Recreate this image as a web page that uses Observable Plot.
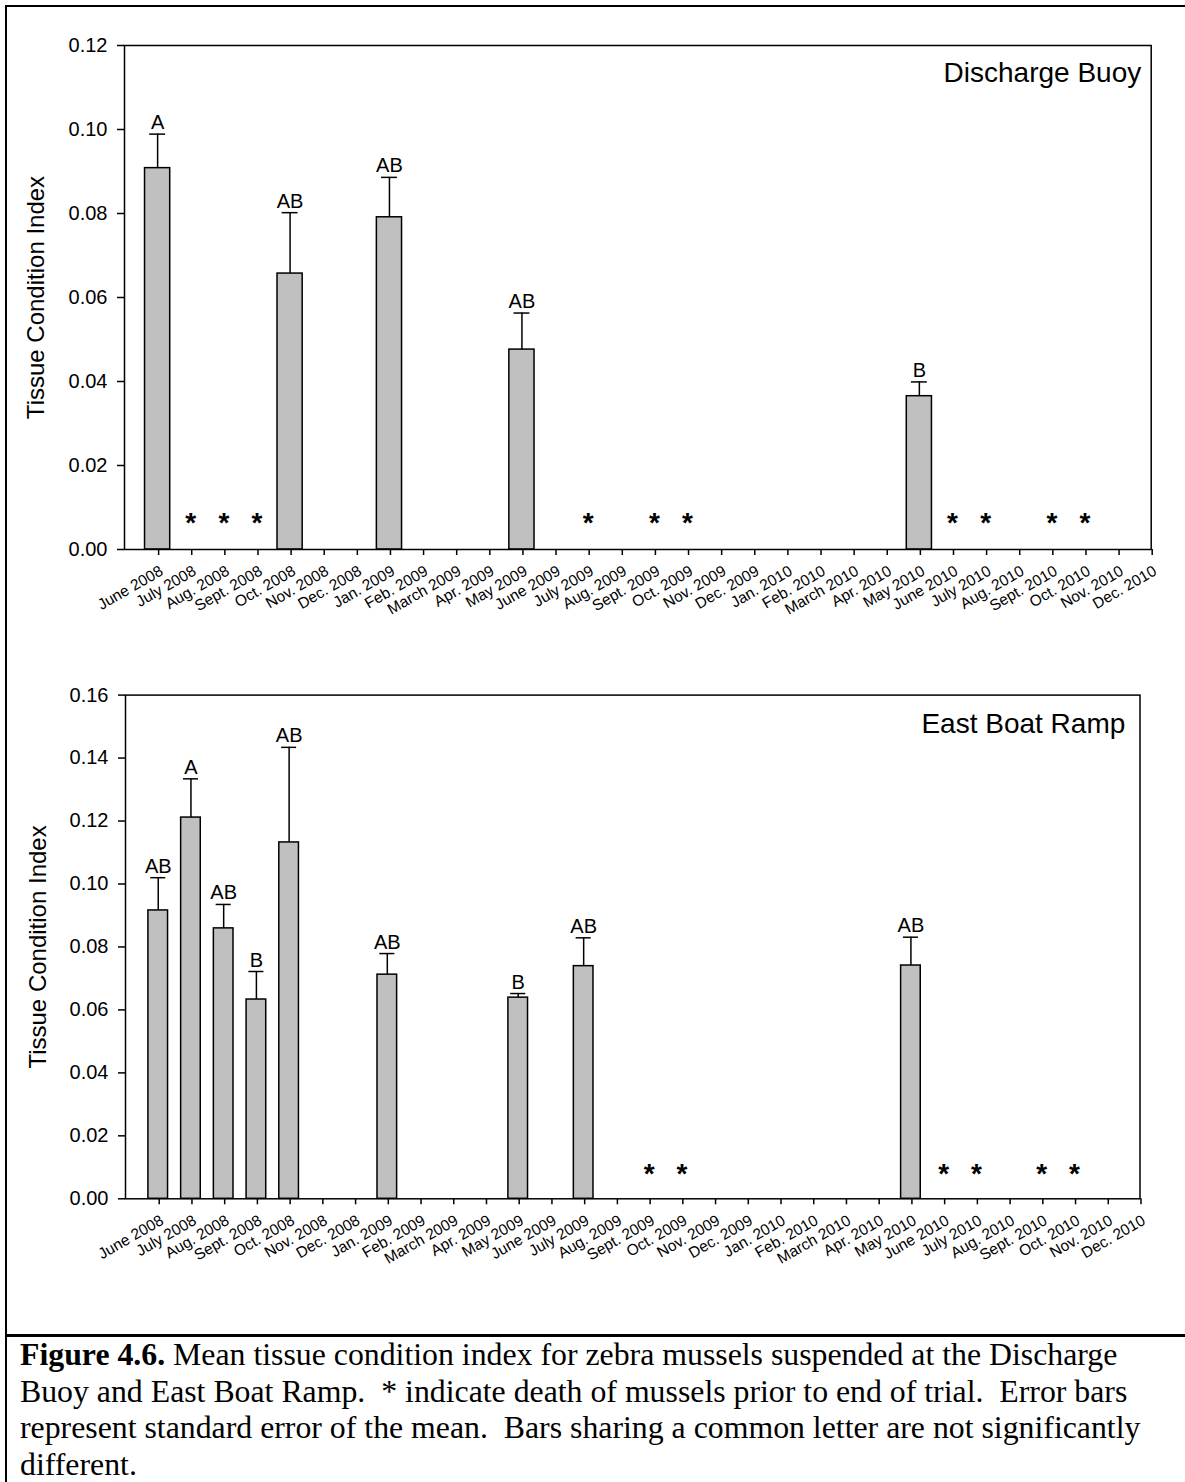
<!DOCTYPE html>
<html>
<head>
<meta charset="utf-8">
<script src="https://cdn.jsdelivr.net/npm/d3@7"></script>
<script src="https://cdn.jsdelivr.net/npm/@observablehq/plot@0.6"></script>
<style>
  body { margin: 0; background: #fff; }
  #page { position: relative; width: 1185px; height: 1482px; overflow: hidden; background: #fff; }
  #box { position: absolute; left: 5px; top: 5px; width: 1300px; height: 1600px; border-left: 2px solid #000; border-top: 2px solid #000; }
  #sep { position: absolute; left: 5px; top: 1334px; width: 1300px; height: 0; border-top: 3px solid #000; }
  .chart { position: absolute; left: 0; }
  #caption { position: absolute; left: 20px; top: 1337px; font-family: "Liberation Serif", "Times New Roman", serif;
             font-size: 31.8px; line-height: 36.7px; color: #000; }
  #caption div { height: 36.7px; white-space: pre; }
</style>
</head>
<body>
<div id="page">
  <div id="box"></div>
  <div id="sep"></div>
  <div id="top" class="chart" style="top:0px"></div>
  <div id="bottom" class="chart" style="top:600px"></div>
  <div id="caption"><div><b>Figure 4.6.</b><span> Mean tissue condition index for zebra mussels suspended at the Discharge</span></div><div><span>Buoy and East Boat Ramp.  * indicate death of mussels prior to end of trial.  Error bars</span></div><div><span>represent standard error of the mean.  Bars sharing a common letter are not significantly</span></div><div><span>different.</span></div></div>
</div>
<script>
// ---- data ----
const months = ["June 2008","July 2008","Aug. 2008","Sept. 2008","Oct. 2008","Nov. 2008","Dec. 2008",
  "Jan. 2009","Feb. 2009","March 2009","Apr. 2009","May 2009","June 2009","July 2009","Aug. 2009",
  "Sept. 2009","Oct. 2009","Nov. 2009","Dec. 2009","Jan. 2010","Feb. 2010","March 2010","Apr. 2010",
  "May 2010","June 2010","July 2010","Aug. 2010","Sept. 2010","Oct. 2010","Nov. 2010","Dec. 2010"];

const yTicksBuoy = [0, 0.02, 0.04, 0.06, 0.08, 0.10, 0.12];
const yTicksRamp = [0, 0.02, 0.04, 0.06, 0.08, 0.10, 0.12, 0.14, 0.16];

const buoyMonths  = ["June 2008","Oct. 2008","Jan. 2009","May 2009","May 2010"];
const buoyMean    = [0.0908, 0.0657, 0.0791, 0.0476, 0.0365];
const buoySE      = [0.0081, 0.0145, 0.0095, 0.0087, 0.0034];
const buoyLetters = ["A","AB","AB","AB","B"];
const buoyDead    = ["July 2008","Aug. 2008","Sept. 2008","July 2009","Sept. 2009","Oct. 2009",
                     "June 2010","July 2010","Sept. 2010","Oct. 2010"];
const buoyStarY   = 0.0072;

const rampMonths  = ["June 2008","July 2008","Aug. 2008","Sept. 2008","Oct. 2008","Jan. 2009","May 2009","July 2009","May 2010"];
const rampMean    = [0.0916, 0.1211, 0.0859, 0.0633, 0.1132, 0.0712, 0.0639, 0.0739, 0.0741];
const rampSE      = [0.0104, 0.0123, 0.0076, 0.0089, 0.0302, 0.0067, 0.0013, 0.0090, 0.0090];
const rampLetters = ["AB","A","AB","B","AB","AB","B","AB","AB"];
const rampDead    = ["Sept. 2009","Oct. 2009","June 2010","July 2010","Sept. 2010","Oct. 2010"];
const rampStarY   = 0.0096;

// ---- chart builder ----
function chart(o) {
  const idx = m => months.indexOf(m) + 1;
  const bars = o.names.map((m, k) => ({i: idx(m), mean: o.mean[k], top: o.mean[k] + o.se[k], letter: o.letters[k]}));
  const stars = o.dead.map(m => ({i: idx(m), y: o.starY}));
  return Plot.plot({
    width: 1185, height: o.height,
    marginLeft: o.mL, marginRight: o.mR, marginTop: o.mT, marginBottom: o.mB,
    style: {fontFamily: "'Liberation Sans', Arial, sans-serif", fontSize: "20px", color: "#000", background: "transparent", overflow: "visible"},
    x: {domain: [0, 31]},
    y: {domain: [0, o.yMax]},
    marks: [
      Plot.rect(bars, {x1: d => d.i - o.barHalf, x2: d => d.i + o.barHalf, y1: 0, y2: "mean",
        fill: "#c0c0c0", stroke: "#000", strokeWidth: 1.5}),
      Plot.ruleX(bars, {x: "i", y1: "mean", y2: "top", stroke: "#000", strokeWidth: 1.5}),
      Plot.ruleY(bars, {y: "top", x1: d => d.i - o.capHalf, x2: d => d.i + o.capHalf, stroke: "#000", strokeWidth: 1.5}),
      Plot.text(bars, {x: "i", y: "top", text: "letter", lineAnchor: "bottom", dy: -5, fontSize: 20, fill: "#000"}),
      Plot.text(stars, {x: "i", y: "y", text: () => "*", fontSize: 28, fontWeight: "bold", lineAnchor: "middle", dy: o.starDy, fill: "#000"}),
      Plot.text([o.title], {frameAnchor: "top-right", text: d => d, textAnchor: "end", lineAnchor: "top",
        dx: o.titleDx, dy: o.titleDy, fontSize: 28, fill: "#000"}),
      Plot.text(["Tissue Condition Index"], {frameAnchor: "left", text: d => d, rotate: -90,
        textAnchor: "middle", lineAnchor: "middle", dx: o.labelDx, fontSize: 24, fill: "#000"}),
      Plot.axisY({ticks: o.yTicks, tickFormat: d3.format(".2f"), tickSize: 7, tickPadding: 10,
        label: null, fontSize: 20, strokeWidth: 1.5}),
      Plot.axisX({ticks: d3.range(1, 32), tickFormat: i => months[i - 1], tickRotate: -30,
        textAnchor: "end", lineAnchor: "top", tickSize: 6, tickPadding: 9, dx: 1,
        label: null, fontSize: 15.5, strokeWidth: 1.5}),
      Plot.frame({stroke: "#000", strokeWidth: 1.5})
    ]
  });
}

document.getElementById("top").append(chart({
  names: buoyMonths, mean: buoyMean, se: buoySE, letters: buoyLetters, dead: buoyDead, starY: buoyStarY,
  yMax: 0.12, yTicks: yTicksBuoy, title: "Discharge Buoy",
  height: 640, mL: 124, mR: 34.3, mT: 45, mB: 91,
  barHalf: 0.38, capHalf: 0.24, titleDx: -10, titleDy: 16.6, labelDx: -88, starDy: 4
}));

document.getElementById("bottom").append(chart({
  names: rampMonths, mean: rampMean, se: rampSE, letters: rampLetters, dead: rampDead, starY: rampStarY,
  yMax: 0.16, yTicks: yTicksRamp, title: "East Boat Ramp",
  height: 700, mL: 125, mR: 45.5, mT: 94.6, mB: 101.7,
  barHalf: 0.30, capHalf: 0.23, titleDx: -14.7, titleDy: 18.4, labelDx: -87, starDy: 5
}));
</script>
</body>
</html>
